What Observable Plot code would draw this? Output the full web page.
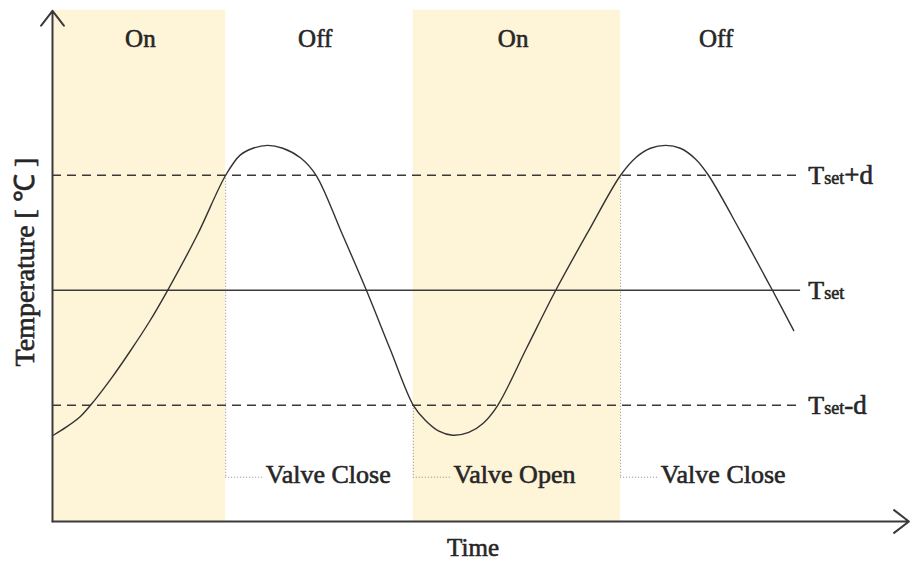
<!DOCTYPE html>
<html>
<head>
<meta charset="utf-8">
<script src="https://cdn.jsdelivr.net/npm/d3@7"></script>
<script src="https://cdn.jsdelivr.net/npm/@observablehq/plot@0.6"></script>
<style>
  html, body { margin: 0; padding: 0; background: #ffffff; }
  svg { overflow: visible; }
</style>
</head>
<body>
<div id="chart"></div>
<script>
// ---- data (time in arbitrary units, temperature in °C, Tset = 20, d = 2) ----
const timeValues = [0.1, 1.6, 3.3, 5.0, 7.0, 9.1, 11.3, 13.5, 17.0, 20.3, 22.0, 23.5, 25.2, 27.0, 29.1, 30.9, 33.9, 36.8, 39.6, 42.3, 43.7, 45.3, 46.9, 48.8, 50.5, 52.2, 55.6, 59.0, 62.8, 66.6, 68.4, 70.1, 71.9, 73.6, 75.4, 76.9, 80.7, 84.4, 86.9];
const tempValues = [17.48, 17.62, 17.81, 18.10, 18.49, 18.94, 19.44, 20.0, 20.97, 22.0, 22.35, 22.47, 22.52, 22.47, 22.30, 22.0, 21.0, 20.0, 18.97, 18.0, 17.74, 17.55, 17.48, 17.53, 17.69, 18.0, 19.0, 20.0, 21.02, 22.0, 22.31, 22.47, 22.52, 22.47, 22.28, 22.0, 21.01, 20.0, 19.30];

const phaseLabels = ["On", "Off", "On", "Off"];
const phaseStart = [0, 20.3, 42.3, 66.6];
const phaseEnd = [20.3, 42.3, 66.6, 100];
const phaseLabelTimes = [10.3, 30.8, 54.0, 77.8];

const valveTimes = [20.3, 42.3, 66.6];
const valveLabels = ["Valve Close", "Valve Open", "Valve Close"];
const valveTemps = [22, 18, 22];

const levelValues = [22, 20, 18];
const levelSuffix = ["+d", "", "-d"];
const levelDashed = [true, false, true];

const xLabel = "Time";
const yLabel = "Temperature [ ℃ ]";

// ---- derived tables ----
const curve = timeValues.map((t, i) => ({t, T: tempValues[i]}));
const phases = phaseLabels.map((label, i) => ({label, start: phaseStart[i], end: phaseEnd[i], mid: phaseLabelTimes[i]}));
const onPhases = phases.filter(p => p.label === "On");
const valves = valveLabels.map((label, i) => ({label, t: valveTimes[i], T: valveTemps[i]}));
const levels = levelValues.map((v, i) => ({v, suffix: levelSuffix[i], dashed: levelDashed[i]}));

const xMin = 0, xMax = 100, yMin = 15.98, yMax = 24.83;
const lineEnd = 87.7;       // right end of the reference lines
const labelX = 88.6;        // where the T_set labels start
const valveY = 16.75;       // level of the valve annotations
const valveGap = 4.7;       // dotted lead before valve label
const font = "Liberation Serif, Times New Roman, serif";
const ink = "#262626";
const heavy = {fill: ink, stroke: ink, strokeWidth: 0.6, fontFamily: font};

const chart = Plot.plot({
  width: 910,
  height: 563,
  marginLeft: 52,
  marginRight: 5,
  marginTop: 12,
  marginBottom: 42,
  style: {fontFamily: font, background: "#ffffff", overflow: "visible"},
  x: {domain: [xMin, xMax], axis: null},
  y: {domain: [yMin, yMax], axis: null},
  marks: [
    // shaded "On" phases
    Plot.rect(onPhases, {x1: "start", x2: "end", y1: yMin, y2: yMax + 0.04, fill: "#fef4d8"}),
    // phase labels
    Plot.text(phases, {x: "mid", y: 24.37, text: "label", fontSize: 25, ...heavy}),
    // reference levels
    Plot.ruleY(levels.filter(d => d.dashed), {y: "v", x1: xMin, x2: lineEnd, stroke: "#3a3a3a", strokeWidth: 1.5, strokeDasharray: "9,6"}),
    Plot.ruleY(levels.filter(d => !d.dashed), {y: "v", x1: xMin, x2: lineEnd, stroke: "#3a3a3a", strokeWidth: 1.5}),
    // level labels: T, set, suffix
    Plot.text(levels, {x: labelX, y: "v", text: () => "T", textAnchor: "start", lineAnchor: "bottom", dy: 9, fontSize: 26, ...heavy}),
    Plot.text(levels, {x: labelX, y: "v", text: () => "set", textAnchor: "start", lineAnchor: "bottom", dx: 16, dy: 9, fontSize: 18, ...heavy}),
    Plot.text(levels, {x: labelX, y: "v", text: "suffix", textAnchor: "start", lineAnchor: "bottom", dx: 36, dy: 9, fontSize: 27, ...heavy}),
    // valve switching markers (dotted)
    Plot.ruleX(valves, {x: "t", y1: "T", y2: valveY, stroke: "#8a8a8a", strokeWidth: 1, strokeDasharray: "1,2"}),
    Plot.ruleY(valves, {y: valveY, x1: "t", x2: d => d.t + valveGap - 0.3, stroke: "#8a8a8a", strokeWidth: 1, strokeDasharray: "1,2"}),
    Plot.text(valves, {x: d => d.t + valveGap, y: valveY + 0.05, text: "label", textAnchor: "start", fontSize: 26, ...heavy}),
    // temperature curve
    Plot.line(curve, {x: "t", y: "T", curve: "catmull-rom", stroke: "#333", strokeWidth: 1.4}),
    // axes with arrowheads
    Plot.arrow([{}], {x1: xMin, y1: yMin, x2: xMin, y2: yMax + 0.03, stroke: "#3a3a3a", strokeWidth: 2, headLength: 14, headAngle: 75}),
    Plot.arrow([{}], {x1: xMin, y1: yMin, x2: xMax + 0.4, y2: yMin, stroke: "#3a3a3a", strokeWidth: 2, headLength: 14, headAngle: 75}),
    // axis titles
    Plot.text([xLabel], {x: 49.3, y: 15.52, text: d => d, fontSize: 25, ...heavy}),
    Plot.text([yLabel], {x: -3.17, y: 20.49, text: d => d, rotate: -90, fontSize: 28, ...heavy})
  ]
});

document.getElementById("chart").appendChild(chart);
</script>
</body>
</html>
